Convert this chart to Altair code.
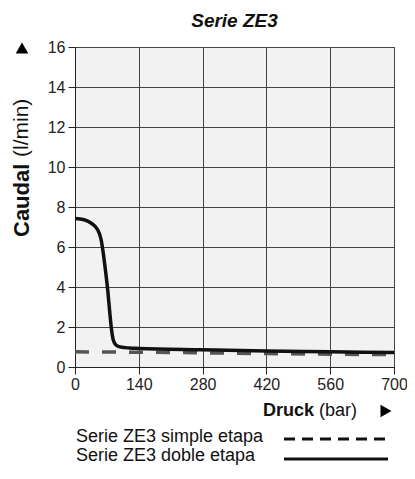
import altair as alt
import pandas as pd

# ---- data ----
pressure_doble = [0, 20, 35, 50, 57, 62, 67, 72, 76, 80, 84, 90, 100, 120, 140, 280, 420, 560, 700]
flow_doble = [7.42, 7.36, 7.2, 6.85, 6.4, 5.7, 4.8, 3.8, 2.8, 1.9, 1.35, 1.1, 1.0, 0.95, 0.93, 0.86, 0.8, 0.76, 0.72]
pressure_simple = [0, 140, 280, 420, 560, 700]
flow_simple = [0.76, 0.74, 0.71, 0.67, 0.64, 0.62]
series_names = ["Serie ZE3 simple etapa", "Serie ZE3 doble etapa"]
x_ticks = [0, 140, 280, 420, 560, 700]
y_ticks = [0, 2, 4, 6, 8, 10, 12, 14, 16]
chart_title = "Serie ZE3"
y_title = ["Caudal", "(l/min)"]
x_title = ["Druck", "(bar)"]

FONT = "Liberation Sans"
W, H = 319, 320

df_doble = pd.DataFrame({"p": pressure_doble, "q": flow_doble})
df_simple = pd.DataFrame({"p": pressure_simple, "q": flow_simple})
one = pd.DataFrame({"k": [0]})

x_enc = alt.X("p:Q", scale=alt.Scale(domain=[0, 700], nice=False),
              axis=alt.Axis(values=x_ticks, title=None, grid=True, gridColor="#444",
                            gridOpacity=1, domainColor="#222", tickColor="#222",
                            tickSize=7, labelPadding=2, labelFont=FONT, labelFontSize=16,
                            labelColor="#222", labelFlush=False, labelOverlap=False))
y_enc = alt.Y("q:Q", scale=alt.Scale(domain=[0, 16], nice=False),
              axis=alt.Axis(values=y_ticks, title=None, grid=True, gridColor="#444",
                            gridOpacity=1, domainColor="#222", tickColor="#222",
                            tickSize=7, labelPadding=3, labelFont=FONT, labelFontSize=16,
                            labelColor="#222", labelOverlap=False, labelFlush=False))

simple = alt.Chart(df_simple).mark_line(color="#555", strokeWidth=3.5, strokeDash=[14, 13]).encode(
    x=x_enc, y=y_enc)
doble = alt.Chart(df_doble).mark_line(color="#111", strokeWidth=3.5, interpolate="monotone").encode(
    x=x_enc, y=y_enc)

def label(text, x, y, bold=False, size=17, angle=0, align="left"):
    return alt.Chart(one).mark_text(
        text=text, font=FONT, fontSize=size, fontWeight="bold" if bold else "normal",
        angle=angle, align=align, baseline="middle", color="#111"
    ).encode(x=alt.value(x), y=alt.value(y))

ytitle1 = label(y_title[0], -53, 190, bold=True, size=22, angle=270)
ytitle2 = label(y_title[1], -53, 110, size=21, angle=270)
up_tri = alt.Chart(one).mark_point(shape="triangle-up", filled=True, size=160, color="#000", opacity=1).encode(
    x=alt.value(-53), y=alt.value(1))

xtitle1 = label(x_title[0], 188, 364, bold=True, size=18)
xtitle2 = label(x_title[1], 244, 364, size=18)
right_tri = alt.Chart(one).mark_point(shape="triangle-right", filled=True, size=160, color="#000", opacity=1).encode(
    x=alt.value(311), y=alt.value(364))

leg1 = label(series_names[0], 1, 390, size=18)
leg2 = label(series_names[1], 1, 409, size=18)
leg_dash = alt.Chart(one).mark_rule(color="#111", strokeWidth=3, strokeDash=[11, 7]).encode(
    x=alt.value(209), x2=alt.value(313), y=alt.value(392))
leg_solid = alt.Chart(one).mark_rule(color="#111", strokeWidth=3).encode(
    x=alt.value(209), x2=alt.value(313), y=alt.value(412))

chart = alt.layer(
    simple, doble, ytitle1, ytitle2, up_tri, xtitle1, xtitle2, right_tri,
    leg1, leg2, leg_dash, leg_solid
).properties(
    width=W, height=H,
    title=alt.TitleParams(chart_title, font=FONT, fontSize=19, fontWeight="bold",
                          fontStyle="italic", anchor="middle", offset=8, color="#111"),
    autosize=alt.AutoSizeParams(type="none"),
    padding={"left": 67, "top": 39, "right": 13, "bottom": 100},
    background="white",
).configure_view(fill="#f2f2f2", stroke="#444", strokeWidth=1)

chart.save("out.html", embed_options={"renderer": "svg", "actions": False})
